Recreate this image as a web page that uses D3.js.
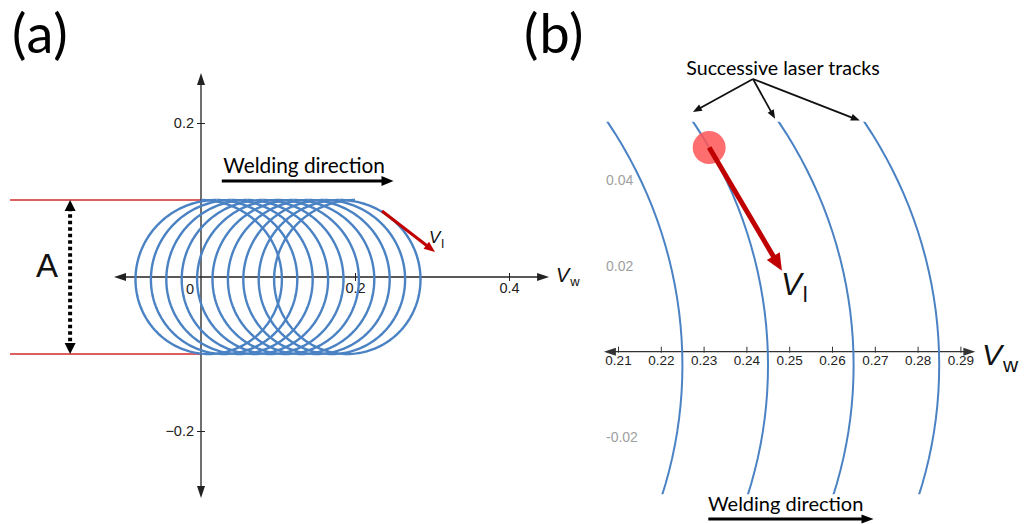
<!DOCTYPE html>
<html>
<head>
<meta charset="utf-8">
<script src="https://cdn.jsdelivr.net/npm/d3@7/dist/d3.min.js"></script>
<style>
  body { margin: 0; background: #fff; }
  svg { display: block; }
  .cal { font-family: Lato, 'Open Sans', sans-serif; fill: #000; }
  .num { font-family: 'Liberation Sans', Arial, sans-serif; }
</style>
</head>
<body>
<svg id="fig" width="1029" height="524"></svg>
<script>
// wobble path: circle radius (A/2), advance per loop, where each loop starts
const wobbleRadius = 0.1;
const loopPitch = 0.02;
const loopStarts = [0, 0.02, 0.04, 0.06, 0.08, 0.1, 0.12, 0.14, 0.16, 0.18];

// tick labels
const ticksAx = [0.2, 0.4];
const ticksAy = [0.2, -0.2];
const ticksBx = [0.21, 0.22, 0.23, 0.24, 0.25, 0.26, 0.27, 0.28, 0.29];
const ticksBy = [0.04, 0.02, -0.02];

// zoomed window of panel (b)
const viewBx = [0.2058, 0.2935];
const viewBy = [-0.0333, 0.0537];

// laser velocity arrows [x0, y0, x1, y1]
const velA = [0.235, 0.0857, 0.3039, 0.0325];
const velB = [0.2313, 0.0477, 0.2483, 0.0189];

const svg = d3.select('#fig');
const defs = svg.append('defs');

// panel (a) scales, equal aspect
const xA = d3.scaleLinear().domain([0, 0.4]).range([201, 509]);
const yA = d3.scaleLinear().domain([-0.2, 0.2]).range([431, 123]);
// panel (b) scales
const xB = d3.scaleLinear().domain([0.21, 0.29]).range([618, 960.4]);
const yB = d3.scaleLinear().domain([-0.02, 0.04]).range([437.3, 180.5]);

function trochoid(start) {
  // one clockwise loop starting at the top of the circle
  return d3.range(0, 201).map(i => {
    const p = i / 200 * 2 * Math.PI;
    return [start + loopPitch * p / (2 * Math.PI) + wobbleRadius * Math.sin(p), wobbleRadius * Math.cos(p)];
  });
}

function arrow(g, p0, p1, o) {
  const dx = p1[0] - p0[0], dy = p1[1] - p0[1];
  const L = Math.hypot(dx, dy), ux = dx / L, uy = dy / L;
  const s = o.hl * 0.7;
  const a = o.both ? [p0[0] + ux * s, p0[1] + uy * s] : p0;
  const b = [p1[0] - ux * s, p1[1] - uy * s];
  g.append('line')
    .attr('x1', a[0]).attr('y1', a[1]).attr('x2', b[0]).attr('y2', b[1])
    .attr('stroke', o.color).attr('stroke-width', o.w)
    .attr('stroke-dasharray', o.dash || null);
  const head = (t, vx, vy) => {
    const nx = -vy, ny = vx;
    g.append('path')
      .attr('d', `M${t[0]},${t[1]}L${t[0] - vx * o.hl + nx * o.hw / 2},${t[1] - vy * o.hl + ny * o.hw / 2}` +
        `L${t[0] - vx * o.hl - nx * o.hw / 2},${t[1] - vy * o.hl - ny * o.hw / 2}Z`)
      .attr('fill', o.color);
  };
  head(p1, ux, uy);
  if (o.both) head(p0, -ux, -uy);
}

function vLabel(x, y, sub, size, subSize, dy) {
  const t = svg.append('text').attr('class', 'num').attr('x', x).attr('y', y)
    .attr('font-size', size).attr('fill', '#111');
  t.append('tspan').attr('font-style', 'italic').text('V');
  t.append('tspan').attr('font-size', subSize).attr('dy', dy).attr('dx', 1).text(sub);
}

// ---------------- panel (a) ----------------
const gA = svg.append('g');

// A limits in red
[wobbleRadius, -wobbleRadius].forEach(v => {
  gA.append('line')
    .attr('x1', xA(-0.248)).attr('x2', xA(0))
    .attr('y1', yA(v)).attr('y2', yA(v))
    .attr('stroke', '#d02a2a').attr('stroke-width', 1.6);
});

// axes with arrows
arrow(gA, [xA(0.2), yA(0)], [xA(-0.113), yA(0)], { color: '#222', w: 1.3, hl: 12, hw: 8 });
arrow(gA, [xA(0.2), yA(0)], [xA(0.452), yA(0)], { color: '#222', w: 1.3, hl: 12, hw: 8 });
arrow(gA, [xA(0), yA(0)], [xA(0), yA(0.265)], { color: '#222', w: 1.3, hl: 12, hw: 8 });
arrow(gA, [xA(0), yA(0)], [xA(0), yA(-0.287)], { color: '#222', w: 1.3, hl: 12, hw: 8 });

const axA = gA.append('g').attr('class', 'num')
  .attr('transform', `translate(0,${yA(0)})`)
  .call(d3.axisBottom(xA).tickValues(ticksAx).tickSize(4).tickFormat(d3.format('.1f')));
axA.select('.domain').remove();
axA.selectAll('line').attr('y1', -4).attr('y2', 4).attr('stroke', '#222');
axA.selectAll('text').attr('y', 6).attr('font-size', 14.5).attr('fill', '#222');

const ayA = gA.append('g').attr('class', 'num')
  .attr('transform', `translate(${xA(0)},0)`)
  .call(d3.axisLeft(yA).tickValues(ticksAy).tickSize(4).tickFormat(d => d < 0 ? '\u22120.2' : '0.2'));
ayA.select('.domain').remove();
ayA.selectAll('line').attr('x1', -4).attr('x2', 4).attr('stroke', '#222');
ayA.selectAll('text').attr('x', -7).attr('font-size', 14.5).attr('fill', '#222');

gA.append('text').attr('class', 'num').attr('x', xA(0) - 11).attr('y', yA(0) + 17)
  .attr('font-size', 14.5).attr('fill', '#222').attr('text-anchor', 'middle').text('0');

// wobble path
const lineA = d3.line().x(d => xA(d[0])).y(d => yA(d[1]));
gA.append('g').selectAll('path').data(loopStarts).join('path')
  .attr('d', d => lineA(trochoid(d)))
  .attr('fill', 'none').attr('stroke', '#4a82c3').attr('stroke-width', 2.4);

// A dimension arrow
arrow(gA, [xA(-0.170), yA(wobbleRadius)], [xA(-0.170), yA(-wobbleRadius)],
  { color: '#000', w: 4, hl: 11, hw: 11, both: true, dash: '3.5,3' });
gA.append('text').attr('class', 'num').attr('x', 36).attr('y', yA(0))
  .attr('font-size', 33).attr('fill', '#111').text('A');

// welding direction
gA.append('text').attr('class', 'cal').attr('x', xA(0.029)).attr('y', 173)
  .attr('font-size', 20.8).text('Welding direction');
arrow(gA, [xA(0.027), yA(0.1247)], [xA(0.25), yA(0.1247)], { color: '#000', w: 3, hl: 12, hw: 10 });

// laser velocity
arrow(gA, [xA(velA[0]), yA(velA[1])], [xA(velA[2]), yA(velA[3])], { color: '#c00000', w: 3, hl: 11, hw: 9 });
vLabel(429, 243, 'l', 17, 13, 5);
vLabel(556, 282, 'w', 20, 13, 4);

svg.append('text').attr('class', 'cal').attr('x', 12).attr('y', 53)
  .attr('font-size', 54).attr('letter-spacing', 1).text('(a)');

// ---------------- panel (b) ----------------
const gB = svg.append('g');
defs.append('clipPath').attr('id', 'clipB').append('rect')
  .attr('x', xB(viewBx[0])).attr('y', yB(viewBy[1]))
  .attr('width', xB(viewBx[1]) - xB(viewBx[0])).attr('height', yB(viewBy[0]) - yB(viewBy[1]));

arrow(gB, [xB(0.25), yB(0)], [xB(0.2067), yB(0)], { color: '#333', w: 1.3, hl: 12, hw: 8 });
arrow(gB, [xB(0.25), yB(0)], [xB(0.2935), yB(0)], { color: '#333', w: 1.3, hl: 12, hw: 8 });

const axB = gB.append('g').attr('class', 'num')
  .attr('transform', `translate(0,${yB(0)})`)
  .call(d3.axisBottom(xB).tickValues(ticksBx).tickSize(5).tickFormat(d3.format('.2f')));
axB.select('.domain').remove();
axB.selectAll('line').attr('y1', -5).attr('y2', 1).attr('stroke', '#333');
axB.selectAll('text').attr('y', 4).attr('font-size', 13.5).attr('fill', '#222');

gB.append('g').selectAll('text').data(ticksBy).join('text')
  .attr('class', 'num').attr('x', 606).attr('y', d => yB(d)).attr('dy', '0.35em')
  .attr('font-size', 14).attr('fill', '#a0a0a0')
  .text(d => d3.format('.2f')(d).replace('\u2212', '-'));

const lineB = d3.line().x(d => xB(d[0])).y(d => yB(d[1]));
gB.append('g').attr('clip-path', 'url(#clipB)')
  .selectAll('path').data(loopStarts).join('path')
  .attr('d', d => lineB(trochoid(d)))
  .attr('fill', 'none').attr('stroke', '#4a82c3').attr('stroke-width', 2);

// laser spot and its velocity
gB.append('circle').attr('cx', xB(velB[0])).attr('cy', yB(velB[1])).attr('r', 16.5)
  .attr('fill', '#ff5555').attr('fill-opacity', 0.85);
arrow(gB, [xB(velB[0]), yB(velB[1])], [xB(velB[2]), yB(velB[3])], { color: '#c00000', w: 5, hl: 17, hw: 15 });
vLabel(781, 295, 'l', 31, 22, 7);
vLabel(982, 365, 'w', 30, 21, 7);

// annotation
gB.append('text').attr('class', 'cal').attr('x', 783).attr('y', 75)
  .attr('font-size', 19.6).attr('text-anchor', 'middle').text('Successive laser tracks');
[[0.2275, 0.0560], [0.2467, 0.0544], [0.2665, 0.0540]].forEach(t => {
  arrow(gB, [753, 79], [xB(t[0]), yB(t[1])], { color: '#111', w: 1.8, hl: 9, hw: 7 });
});

gB.append('text').attr('class', 'cal').attr('x', 708).attr('y', 511)
  .attr('font-size', 20).text('Welding direction');
arrow(gB, [xB(0.2311), yB(-0.0391)], [xB(0.2697), yB(-0.0391)], { color: '#000', w: 3, hl: 12, hw: 9 });

svg.append('text').attr('class', 'cal').attr('x', 524).attr('y', 53)
  .attr('font-size', 54).attr('letter-spacing', 1).text('(b)');
</script>
</body>
</html>
